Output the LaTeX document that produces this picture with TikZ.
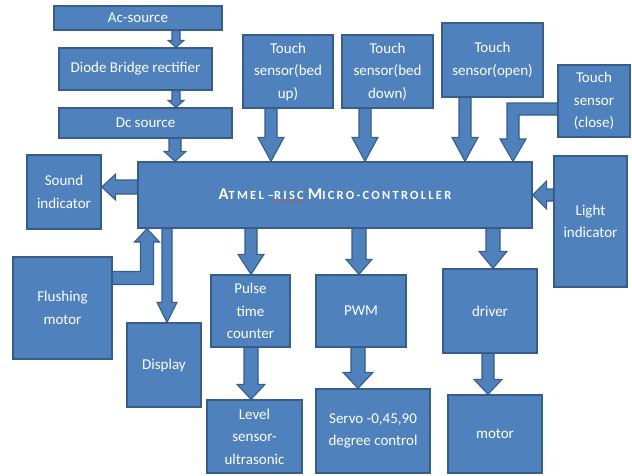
\documentclass[tikz,border=0pt]{standalone}
\usepackage{fontspec}
\setmainfont{Carlito}
\usetikzlibrary{calc}
\definecolor{bfill}{HTML}{4F81BD}
\definecolor{bline}{HTML}{385D8A}
\definecolor{squig}{HTML}{C0504D}
\tikzset{
  box/.style={draw=bline, fill=bfill, text=white, line width=1.3pt, inner sep=0pt,
    align=center, font=\fontsize{15}{22.5}\selectfont},
  barrow/.style={draw=bline, fill=bfill, line width=1.1pt, line join=miter}
}
% down arrow: #1 x, #2 start anchor, #3 tip anchor, #4 half shaft, #5 half head, #6 head length
\newcommand{\bdown}[6]{%
  \draw[barrow] ($(#1,0 |- #2)+(-#4,0)$) -- ($(#1,0 |- #3)+(-#4,-#6)$) -- ($(#1,0 |- #3)+(-#5,-#6)$)
    -- (#1,0 |- #3) -- ($(#1,0 |- #3)+(#5,-#6)$) -- ($(#1,0 |- #3)+(#4,-#6)$) -- ($(#1,0 |- #2)+(#4,0)$) -- cycle;}
% left arrow: #1 y, #2 start anchor (right), #3 tip anchor (left)
\newcommand{\bleft}[6]{%
  \draw[barrow] ($(#2 |- 0,#1)+(0,-#4)$) -- ($(#3 |- 0,#1)+(#6,-#4)$) -- ($(#3 |- 0,#1)+(#6,-#5)$)
    -- (#3 |- 0,#1) -- ($(#3 |- 0,#1)+(#6,#5)$) -- ($(#3 |- 0,#1)+(#6,#4)$) -- ($(#2 |- 0,#1)+(0,#4)$) -- cycle;}
\newcommand{\bigsc}[1]{{\fontsize{16.5}{16}\selectfont #1}}
\newcommand{\smlsc}[1]{{\fontsize{12.5}{16}\selectfont #1}}
\begin{document}
\begin{tikzpicture}[x=1pt,y=-1pt]
\useasboundingbox (0,0) rectangle (632,475);
\fill[white] (0,0) rectangle (632,475);
% nodes
\node[box, minimum width=168, minimum height=24] (ac) at (138,18) {Ac-source};
\node[box, minimum width=153, minimum height=42] (diode) at (135.5,69) {Diode Bridge rectifier};
\node[box, minimum width=173, minimum height=30] (dc) at (145.5,123) {Dc source};
\node[box, minimum width=90, minimum height=73] (bedup) at (288,71.5) {Touch\\sensor(bed\\up)};
\node[box, minimum width=91, minimum height=73] (beddown) at (387.5,71.5) {Touch\\sensor(bed\\down)};
\node[box, minimum width=101, minimum height=74] (open) at (492.5,60) {Touch\\sensor(open)};
\node[box, minimum width=72, minimum height=72] (close) at (594,101) {Touch\\sensor\\(close)};
\node[box, minimum width=394, minimum height=66, font=\bfseries\addfontfeature{LetterSpace=18}] (mcu) at (335,195)
  {\bigsc{A}\smlsc{TMEL} \smlsc{–}{\color{squig}$\underline{\hbox{\color{white}\smlsc{RISC}}}$} \bigsc{M}\smlsc{ICRO-CONTROLLER}};
\node[box, minimum width=74, minimum height=74] (sound) at (64,192) {Sound\\indicator};
\node[box, minimum width=73, minimum height=131] (light) at (590.5,221.5) {Light\\indicator};
\node[box, minimum width=99, minimum height=102] (flush) at (62.5,308) {Flushing\\motor};
\node[box, minimum width=74, minimum height=84] (display) at (164,365) {Display};
\node[box, minimum width=79, minimum height=72] (pulse) at (250.5,311) {Pulse\\time\\counter};
\node[box, minimum width=95, minimum height=73] (level) at (254.5,436.5) {Level\\sensor-\\ultrasonic};
\node[box, minimum width=90, minimum height=72] (pwm) at (361,311) {PWM};
\node[box, minimum width=114, minimum height=84] (servo) at (373,431) {Servo -0,45,90\\degree control};
\node[box, minimum width=94, minimum height=84] (driver) at (490,311) {driver};
\node[box, minimum width=94, minimum height=78] (motor) at (495,434) {motor};
% arrows
\bdown{176}{ac.south}{diode.north}{4}{8}{7}
\bdown{176}{diode.south}{dc.north}{4}{8}{7}
\bdown{175}{dc.south}{mcu.north}{6}{11}{10}
\bdown{271}{bedup.south}{mcu.north}{6}{13}{24}
\bdown{365}{beddown.south}{mcu.north}{6}{13}{24}
\bdown{465}{open.south}{mcu.north}{6}{13}{24}
\draw[barrow] (close.west |- 0,103) -- (507,103) -- (507,139) -- (500,139) -- (513,0 |- mcu.north)
  -- (526,139) -- (519,139) -- (519,115) -- (close.west |- 0,115) -- cycle;
\bdown{167}{mcu.south}{display.north}{5}{10}{20}
\bdown{251}{mcu.south}{pulse.north}{6}{13}{20}
\bdown{251}{pulse.south}{level.north}{7}{14}{15}
\bdown{359}{mcu.south}{pwm.north}{7}{13}{15}
\bdown{358}{pwm.south}{servo.north}{7}{15}{16}
\bdown{493}{mcu.south}{driver.north}{7}{14}{17}
\bdown{488}{driver.south}{motor.north}{6}{14}{15}
\bleft{187}{mcu.west}{sound.east}{7}{13}{14}
\bleft{195}{light.west}{mcu.east}{6}{14}{14}
\draw[barrow] (flush.east |- 0,271.5) -- (140.5,271.5) -- (140.5,242) -- (134.5,242) -- (147,0 |- mcu.south)
  -- (159.5,242) -- (153.5,242) -- (153.5,284.5) -- (flush.east |- 0,284.5) -- cycle;
\end{tikzpicture}
\end{document}
